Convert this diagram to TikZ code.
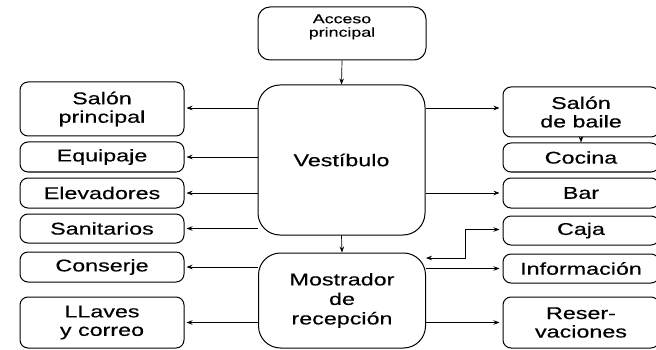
\documentclass[tikz,border=0pt]{standalone}
\usepackage{fontspec}
\setmainfont[FakeStretch=1.37,FakeBold=0.4]{Liberation Sans}
\usetikzlibrary{arrows.meta}
\begin{document}
\begin{tikzpicture}[x=1pt,y=-1pt,
  box/.style={draw, line width=1pt, rounded corners=8pt, align=center, inner sep=0pt,
    font=\fontsize{17}{18.5}\selectfont},
  lbox/.style={box, minimum width=164pt},
  rbox/.style={box, minimum width=156pt},
  big/.style={box, rounded corners=22pt, minimum width=167pt},
  conn/.style={line width=0.7pt, -{Stealth[length=6pt,width=4.5pt]}},
  dconn/.style={line width=0.7pt, {Stealth[length=6pt,width=4.5pt]}-{Stealth[length=6pt,width=4.5pt]}}
]
\clip (0,0) rectangle (656,350);
% center column
\node[box, minimum width=168pt, minimum height=53pt, rounded corners=12pt, text depth=16pt,
  font=\fontsize{13}{13.5}\selectfont] (acc) at (342,33.5) {Acceso\\principal};
\node[big, minimum height=150pt] (vest) at (341.5,160) {Vestíbulo};
\node[big, minimum height=95pt, font=\fontsize{17}{19.5}\selectfont] (most) at (342,300.5) {Mostrador\\de\\recepción};
% left column
\node[lbox, minimum height=54pt] (salp) at (102,109) {Salón\\principal};
\node[lbox, minimum height=30pt] (equi) at (102,157) {Equipaje};
\node[lbox, minimum height=30pt] (elev) at (102,193) {Elevadores};
\node[lbox, minimum height=29pt] (sani) at (102,228.5) {Sanitarios};
\node[lbox, minimum height=30pt] (cons) at (102,267) {Conserje};
\node[lbox, minimum height=51pt] (llav) at (102,322.5) {LLaves\\y correo};
% right column
\node[rbox, minimum height=50pt] (sbai) at (581,112) {Salón\\de baile};
\node[rbox, minimum height=29pt] (coci) at (581,157.5) {Cocina};
\node[rbox, minimum height=30pt] (bar) at (581,193) {Bar};
\node[rbox, minimum height=29pt] (caja) at (581,230.5) {Caja};
\node[rbox, minimum height=29pt] (info) at (581,268.5) {Información};
\node[rbox, minimum height=51pt] (resv) at (581,322.5) {Reser-\\vaciones};
% vertical flow
\draw[conn] (acc.south) -- (vest.north);
\draw[conn] (vest.south) -- (most.north);
% left connectors
\draw[conn, shorten >=2pt] (vest.west |- 0,108) -- (salp.east |- 0,108);
\draw[conn, shorten >=2pt] (vest.west |- equi.east) -- (equi.east);
\draw[conn, shorten >=2pt] (vest.west |- elev.east) -- (elev.east);
\draw[conn, shorten >=2pt] (vest.west |- sani.east) -- (sani.east);
\draw[conn, shorten >=2pt] (most.west |- cons.east) -- (cons.east);
\draw[conn, shorten >=2pt] (most.west |- llav.east) -- (llav.east);
% right connectors
\draw[conn, shorten >=3pt] (vest.east |- 0,108) -- (sbai.west |- 0,108);
\draw[conn] (sbai.south) -- (coci.north);
\draw[conn, shorten >=3pt] (vest.east |- bar.west) -- (bar.west);
\coordinate (cj1) at (465,229.5);
\coordinate (cj2) at (465,258);
\draw[dconn, shorten >=3pt] (most.east |- cj2) -- (cj2) -- (cj1) -- (caja.west |- cj1);
\draw[conn, shorten >=3pt] (most.east |- info.west) -- (info.west);
\draw[conn, shorten >=3pt] (most.east |- resv.west) -- (resv.west);
\end{tikzpicture}
\end{document}
